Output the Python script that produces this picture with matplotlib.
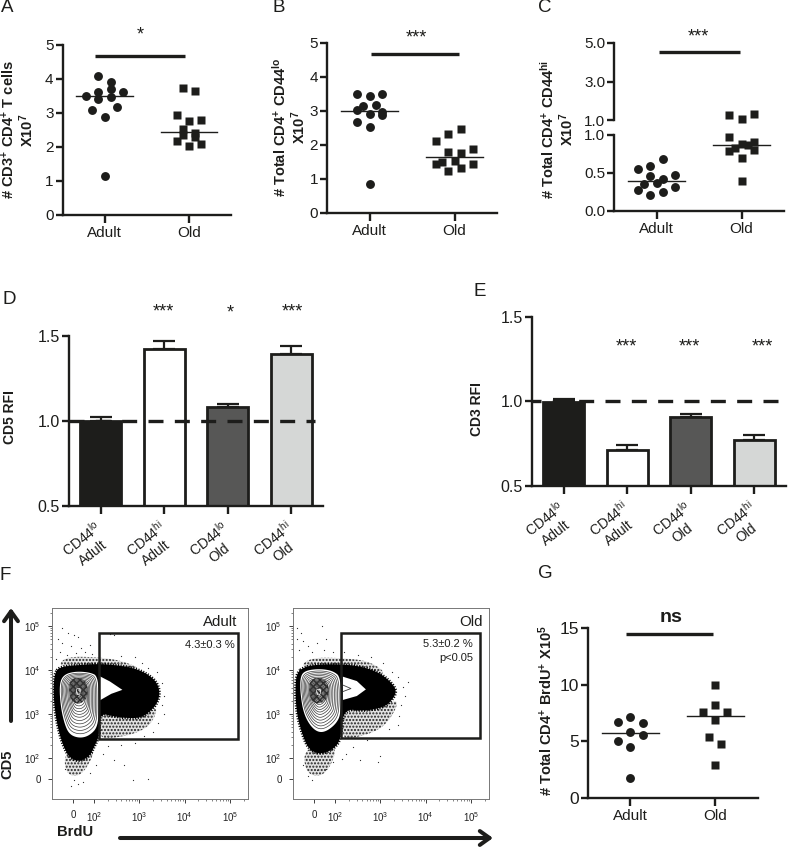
import numpy as np
import matplotlib
matplotlib.use('Agg')
import matplotlib.pyplot as plt
from matplotlib.patches import Polygon, Rectangle
from matplotlib.transforms import ScaledTranslation

plt.rcParams['font.family'] = ['Liberation Sans', 'DejaVu Sans']
plt.rcParams['mathtext.fontset'] = 'custom'
plt.rcParams['mathtext.rm'] = 'Liberation Sans'
plt.rcParams['mathtext.bf'] = 'Liberation Sans:bold'
plt.rcParams['mathtext.default'] = 'regular'

W, H = 788, 848
INK = '#1d1d1b'
SLOT = 0.073

groups = ['Adult', 'Old']

# panel A
a_adult = [4.10, 3.92, 3.72, 3.63, 3.61, 3.50, 3.40, 3.48, 3.19, 3.10, 2.88, 1.15]
a_adult_slot = [-1, 1, 1, -1, 3, -3, -1, 1, 2, -2, 0, 0]
a_old = [3.75, 3.66, 2.94, 2.77, 2.80, 2.52, 2.35, 2.40, 2.28, 2.18, 2.03, 2.08]
a_old_slot = [-1, 1, -2, 0, 2, -1, -1, 1, 1, -2, 0, 2]
a_means = [3.50, 2.45]

# panel B
b_adult = [3.50, 3.45, 3.50, 3.14, 3.17, 3.04, 2.91, 2.96, 2.87, 2.69, 2.54, 0.85]
b_adult_slot = [-2, 0, 2, -1, 1, -2, 0, 2, 2, -2, 0, 0]
b_old = [2.12, 2.31, 2.46, 1.89, 1.78, 1.76, 1.50, 1.53, 1.43, 1.44, 1.31, 1.25]
b_old_slot = [-3, -1, 1, 3, -1, 1, -2, 0, -3, 3, 1, -1]
b_means = [3.00, 1.66]

# panel C (broken axis)
c_adult = [0.69, 0.59, 0.555, 0.46, 0.47, 0.415, 0.36, 0.37, 0.32, 0.27, 0.245, 0.21]
c_adult_slot = [1, -1, -3, -1, 3, 1, -2, 0, 3, -3, 1, -1]
c_old = [1.26, 1.31, 1.03, 0.97, 0.91, 0.88, 0.865, 0.83, 0.79, 0.80, 0.70, 0.39]
c_old_slot = [-2, 2, 0, -2, 2, 0, 1, -1, -2, 2, 0, 0]
c_means = [0.40, 0.865]

# panel D, E
bar_labels = ['CD44$^{lo}$\nAdult', 'CD44$^{hi}$\nAdult', 'CD44$^{lo}$\nOld', 'CD44$^{hi}$\nOld']
bar_colors = [INK, '#ffffff', '#575756', '#d5d7d6']
d_values = [1.00, 1.425, 1.08, 1.395]
d_errors = [0.02, 0.045, 0.02, 0.045]
e_values = [1.00, 0.712, 0.909, 0.775]
e_errors = [0.015, 0.03, 0.015, 0.025]

# panel G
g_adult = [7.18, 6.68, 6.59, 5.85, 5.59, 5.06, 4.50, 1.76]
g_adult_slot = [0, -2, 2, 0, 2, -2, 0, 0]
g_old = [9.97, 8.18, 7.62, 7.59, 6.88, 5.38, 4.79, 2.88]
g_old_slot = [0, 0, -2, 2, 0, -1, 1, 0]
g_means = [5.74, 7.24]

# panel F, outlines, in decades of the flow axes
f_ticks = [1.53, 2, 3, 4, 5]
f_ticklabels = ['0', '$10^{2}$', '$10^{3}$', '$10^{4}$', '$10^{5}$']

adult_dense = [(1.13, 3.93), (1.24, 4.07), (1.61, 4.11), (2.05, 4.14), (2.42, 4.12), (2.86, 4.05),
               (3.15, 3.93), (3.38, 3.74), (3.46, 3.48), (3.38, 3.21), (3.19, 3.02), (3.01, 2.91),
               (2.71, 2.91), (2.42, 2.95), (2.13, 3.02), (2.11, 2.49), (2.01, 2.27), (1.90, 2.04),
               (1.68, 1.92), (1.46, 2.00), (1.32, 2.27), (1.21, 2.64), (1.13, 3.10), (1.10, 3.55)]
adult_hole = [(1.23, 3.67), (1.32, 3.89), (1.57, 3.97), (1.90, 3.95), (2.09, 3.86), (2.10, 3.25),
              (2.09, 2.72), (1.90, 2.51), (1.68, 2.45), (1.46, 2.53), (1.35, 2.76), (1.26, 3.17)]
adult_wedge = [(2.125, 3.86), (2.35, 3.74), (2.625, 3.55), (2.38, 3.46), (2.125, 3.31)]
adult_fringe = [[(2.11, 3.05), (3.2, 3.05), (3.42, 3.15), (3.25, 2.75), (2.9, 2.55), (2.4, 2.45), (2.11, 2.45)],
                [(1.35, 2.2), (1.36, 1.62), (1.75, 1.58), (2.1, 2.35)],
                [(1.2, 4.05), (1.35, 4.3), (2.0, 4.3), (2.6, 4.22), (3.1, 4.0), (2.2, 4.08)]]
adult_core = [(1.45, 3.82), (1.82, 3.82), (1.88, 3.38), (1.65, 3.2), (1.45, 3.35)]
adult_centre = (1.65, 3.54)
adult_gate = (2.10, 5.18, 2.44, 4.84)
adult_strays = [(1.30, 4.95), (1.42, 4.85), (1.55, 4.80), (1.65, 4.75), (1.20, 4.70), (1.28, 4.62),
                (1.50, 4.55), (1.72, 4.50), (1.90, 4.58), (1.25, 4.40), (1.40, 4.35), (1.60, 4.38),
                (1.80, 4.42), (1.95, 4.36), (1.15, 4.25), (2.35, 4.82), (2.45, 4.80), (2.60, 4.33),
                (2.90, 4.30), (3.05, 4.15), (3.20, 4.05), (3.40, 3.95), (3.50, 3.70), (3.55, 3.40),
                (3.50, 3.20), (3.55, 3.00), (3.42, 2.80), (3.30, 2.60), (3.10, 2.50), (2.90, 2.35),
                (2.60, 2.30), (2.30, 2.28), (2.20, 2.10), (2.45, 1.95), (2.65, 1.85), (2.85, 1.50),
                (3.20, 1.52), (1.50, 1.36), (1.55, 1.50), (1.65, 1.42), (1.75, 1.45), (1.35, 1.75),
                (1.90, 1.65), (2.05, 1.85)]

old_dense = [(1.15, 3.94), (1.34, 4.08), (1.67, 4.13), (2.11, 4.13), (2.55, 4.09), (2.99, 3.94),
             (3.29, 3.67), (3.36, 3.48), (3.21, 3.26), (3.03, 3.14), (2.63, 3.07), (2.18, 3.12),
             (2.13, 2.42), (1.96, 2.20), (1.67, 2.08), (1.41, 2.20), (1.26, 2.58), (1.15, 3.03),
             (1.12, 3.56)]
old_hole = [(1.23, 3.85), (1.34, 3.99), (1.67, 4.03), (1.96, 3.98), (2.13, 3.83), (2.13, 3.03),
            (2.04, 2.80), (1.82, 2.61), (1.63, 2.58), (1.45, 2.73), (1.30, 3.03), (1.23, 3.48)]
old_wedge = [(2.17, 3.85), (2.48, 3.75), (2.68, 3.56), (2.48, 3.41), (2.17, 3.32)]
old_loop = [(2.17, 3.66), (2.35, 3.58), (2.17, 3.51)]
old_fringe = [[(2.18, 3.12), (3.2, 3.28), (3.42, 3.3), (3.2, 2.85), (2.9, 2.6), (2.4, 2.45), (2.15, 2.45)],
              [(1.30, 2.25), (1.35, 1.62), (1.80, 1.58), (2.1, 2.35)],
              [(1.2, 4.05), (1.45, 4.28), (2.1, 4.28), (2.8, 4.2), (3.2, 3.85), (2.2, 4.08)]]
old_core = [(1.43, 3.82), (1.82, 3.82), (1.88, 3.38), (1.63, 3.2), (1.43, 3.35)]
old_centre = (1.63, 3.52)
old_gate = (2.13, 5.21, 2.45, 4.84)
old_strays = [(1.15, 4.95), (1.25, 4.85), (1.70, 5.00), (1.15, 4.70), (1.30, 4.65), (1.40, 4.55),
              (1.60, 4.62), (1.80, 4.70), (1.20, 4.45), (1.50, 4.40), (1.75, 4.45), (1.95, 4.40),
              (2.20, 4.42), (2.50, 4.35), (2.80, 4.30), (3.05, 4.15), (3.25, 3.95), (3.40, 3.85),
              (3.50, 3.62), (3.55, 3.40), (3.45, 3.20), (3.60, 3.72), (3.42, 2.95), (3.40, 2.75),
              (3.20, 2.65), (3.00, 2.45), (2.70, 2.40), (2.40, 2.25), (2.25, 2.10), (2.55, 1.95),
              (2.95, 1.90), (3.00, 2.05), (1.30, 1.85), (1.40, 1.60), (1.50, 1.50), (1.60, 1.72),
              (1.80, 1.75), (1.95, 1.90), (1.35, 1.98), (2.15, 1.98)]
ring_scales = [0.92, 0.85, 0.78, 0.71, 0.64, 0.57, 0.51, 0.45, 0.39, 0.33, 0.27, 0.21, 0.15, 0.09]


fig = plt.figure(figsize=(W / 100, H / 100), dpi=100)


def ax_px(left, top, right, bottom):
    return fig.add_axes([left / W, 1 - bottom / H, (right - left) / W, (bottom - top) / H])


def style_axes(ax, size=11):
    for side in ['top', 'right']:
        ax.spines[side].set_visible(False)
    for side in ['left', 'bottom']:
        ax.spines[side].set_linewidth(1.7)
        ax.spines[side].set_color(INK)
    ax.tick_params(width=1.7, length=5.4, color=INK, labelcolor=INK, labelsize=size, pad=1)
    ax.tick_params(axis='x', pad=2.5)
    ax.patch.set_alpha(0)


def swarm(ax, pos, values, slots, marker, size):
    x = pos + np.array(slots) * SLOT
    ax.plot(x, values, ls='', marker=marker, ms=size, color=INK, mec='none', clip_on=False, zorder=3)


def dot_panel(ax, adult, adult_slot, old, old_slot, means, bar, ticks):
    swarm(ax, 0, adult, adult_slot, 'o', 6.4)
    swarm(ax, 1, old, old_slot, 's', 5.6)
    for i, m in enumerate(means):
        ax.plot([i - 0.335, i + 0.335], [m, m], color=INK, lw=1.0, zorder=4)
    ax.plot(bar[:2], [bar[2], bar[2]], color=INK, lw=2.4, solid_capstyle='butt', clip_on=False)
    ax.set_xlim(-0.5, 1.5)
    ax.set_xticks([0, 1], groups)
    ax.set_yticks(ticks)
    style_axes(ax)


# top row
ax_a = ax_px(62.5, 45, 231, 215)
ax_a.set_ylim(0, 5)
dot_panel(ax_a, a_adult, a_adult_slot, a_old, a_old_slot, a_means, (-0.12, 0.95, 4.69), range(6))

ax_b = ax_px(327, 43, 497, 213)
ax_b.set_ylim(0, 5)
dot_panel(ax_b, b_adult, b_adult_slot, b_old, b_old_slot, b_means, (0.02, 1.05, 4.69), range(6))

# panel C, lower and upper part of the broken axis
ax_c = ax_px(614, 135, 784, 211)
ax_c.set_ylim(0, 1)
c_values = np.array(c_old)
c_slots = np.array(c_old_slot)
low = c_values <= 1
dot_panel(ax_c, c_adult, c_adult_slot, c_values[low], c_slots[low], c_means, (0, 0, 0), [0, 0.5, 1])
ax_c.set_yticklabels(['0.0', '0.5', '1.0'])

ax_c2 = ax_px(614, 43, 784, 120)
ax_c2.set_ylim(1, 5)
ax_c2.set_xlim(-0.5, 1.5)
style_axes(ax_c2)
ax_c2.spines['bottom'].set_visible(False)
ax_c2.set_xticks([])
ax_c2.set_yticks([1, 3, 5], ['1.0', '3.0', '5.0'])
swarm(ax_c2, 1, c_values[~low], c_slots[~low], 's', 5.6)
ax_c2.plot([0.03, 0.98], [4.53, 4.53], color=INK, lw=2.4, solid_capstyle='butt')


def bar_panel(ax, values, errors, dash_end, dash_phase):
    x = np.arange(len(values))
    ax.bar(x, np.array(values) - 0.5, 0.647, bottom=0.5, color=bar_colors, edgecolor=INK, linewidth=2.0, zorder=2)
    ax.errorbar(x, values, yerr=[np.zeros(len(errors)), errors], fmt='none', ecolor=INK, elinewidth=1.6,
                capsize=7.9, capthick=1.6, zorder=1)
    ax.plot([-0.5, dash_end], [1, 1], color=INK, lw=2.4, ls=(dash_phase, (4.5, 3.4)), dash_capstyle='butt', zorder=3)
    ax.set_xlim(-0.5, 3.5)
    ax.set_ylim(0.5, 1.5)
    ax.set_yticks([0.5, 1.0, 1.5], ['0.5', '1.0', '1.5'])
    style_axes(ax, 11.5)
    ax.set_xticks(x)
    ax.set_xticklabels(bar_labels, rotation=38, ha='right', va='top', rotation_mode='anchor',
                       multialignment='center', fontsize=10)
    ax.tick_params(axis='x', pad=4)
    shift = ScaledTranslation(-7 / 100, 1 / 100, fig.dpi_scale_trans)
    for label in ax.get_xticklabels():
        label.set_transform(label.get_transform() + shift)


ax_d = ax_px(69, 336, 323, 505.5)
bar_panel(ax_d, d_values, d_errors, 3.38, 0)
ax_e = ax_px(532, 317, 786, 486)
bar_panel(ax_e, e_values, e_errors, 3.4, 1.8)

ax_g = ax_px(588, 628, 757.5, 798)
ax_g.set_ylim(0, 15)
dot_panel(ax_g, g_adult, g_adult_slot, g_old, g_old_slot, g_means, (-0.055, 0.976, 14.5), [0, 5, 10, 15])
ax_g.tick_params(axis='y', labelsize=12.5)


def smooth(points, rounds=3):
    pts = np.array(points)
    for _ in range(rounds):
        nxt = np.roll(pts, -1, axis=0)
        pts = np.column_stack([0.75 * pts + 0.25 * nxt, 0.25 * pts + 0.75 * nxt]).reshape(-1, 2)
    return pts


def flow_panel(ax, dense, hole, wedge, fringe, core, centre, gate, strays):
    ax.set_xlim(1.07, 5.40)
    ax.set_ylim(1.07, 5.41)
    minor = [d + np.log10(k) for d in range(2, 6) for k in range(2, 10)]
    minor = [m for m in minor if m < 5.4]
    for axis in [ax.xaxis, ax.yaxis]:
        axis.set_ticks(f_ticks, f_ticklabels)
        axis.set_ticks(minor, minor=True)
    ax.tick_params(which='major', length=3, width=0.6, labelsize=7, pad=5, color='#222222', labelcolor='#222222')
    ax.tick_params(which='minor', length=1.5, width=0.4, color='#222222')
    for spine in ax.spines.values():
        spine.set_linewidth(0.7)
        spine.set_color('#777777')

    for part in fringe:
        ax.add_patch(Polygon(smooth(part), closed=True, facecolor='#e2e2e2', edgecolor='#222222',
                             hatch='.....', linewidth=0, zorder=1))
    # rough speckled rim round the dense part
    ax.add_patch(Polygon(smooth(dense), closed=True, facecolor='black', edgecolor='black', linewidth=2.2,
                         linestyle=(0, (0.35, 0.5)), zorder=2))
    ax.add_patch(Polygon(smooth(hole), closed=True, facecolor='white', edgecolor='none', zorder=3))
    ax.add_patch(Polygon(np.array(wedge), closed=True, facecolor='white', edgecolor='none', zorder=3))
    ax.add_patch(Polygon(smooth(core), closed=True, facecolor='#999999', edgecolor='#222222',
                         hatch='xxxxx', linewidth=0, zorder=4))
    outline = smooth(hole)
    for s in ring_scales:
        ring = np.array(centre) + (outline - np.array(centre)) * s
        col = 'white' if s < 0.12 else '#3c3c3c'
        ax.add_patch(Polygon(ring, closed=True, fill=False, edgecolor=col, linewidth=0.5, zorder=5))
    sx, sy = zip(*strays)
    ax.plot(sx, sy, ls='', marker='s', ms=0.8, color='#333333', mec='none', zorder=1)
    ax.add_patch(Rectangle((gate[0], gate[2]), gate[1] - gate[0], gate[3] - gate[2], fill=False,
                           edgecolor=INK, linewidth=1.8, zorder=6))


ax_f1 = ax_px(52, 608, 248, 799)
flow_panel(ax_f1, adult_dense, adult_hole, adult_wedge, adult_fringe, adult_core, adult_centre, adult_gate, adult_strays)
ax_f2 = ax_px(293, 608, 489, 799)
flow_panel(ax_f2, old_dense, old_hole, old_wedge, old_fringe, old_core, old_centre, old_gate, old_strays)
lx, ly = zip(*old_loop)
ax_f2.plot(lx, ly, color='#3c3c3c', lw=0.6, zorder=5)

# overlay in figure pixels for the labels and the two long arrows
over = fig.add_axes([0, 0, 1, 1], zorder=10)
over.set_xlim(0, W)
over.set_ylim(H, 0)
over.axis('off')

letters = [('A', 1, 8), ('B', 273, 8), ('C', 538, 8), ('D', 3, 299), ('E', 474, 292), ('F', -1, 575), ('G', 538, 574)]
for name, x, y in letters:
    over.text(x, y, name, fontsize=13.5, color=INK, ha='left', va='center')


def stars(x, y, text):
    over.text(x, y + 9, text, fontsize=13, color=INK, ha='center', va='baseline')


for x, y, text in [(140, 30, '*'), (416, 33, '***'), (698, 32, '***'), (163, 307, '***'), (230, 308, '*'),
                   (292, 307, '***'), (626, 342, '***'), (689, 342, '***'), (762, 342, '***')]:
    stars(x, y, text)
over.text(671, 617, 'ns', fontsize=14, fontweight='bold', color=INK, ha='center', va='center')

ylabels = [(18, 130, '# CD3$^{+}$ CD4$^{+}$ T cells\nX10$^{7}$', 10.5),
           (289.5, 127, '# Total CD4$^{+}$ CD44$^{lo}$\nX10$^{7}$', 10.5),
           (557.5, 129, '# Total CD4$^{+}$ CD44$^{hi}$\nX10$^{7}$', 10.5),
           (10, 417, 'CD5 RFI', 10),
           (477, 409, 'CD3 RFI', 10),
           (546, 711, '# Total CD4$^{+}$ BrdU$^{+}$ X10$^{5}$', 10.5),
           (7.5, 764, 'CD5', 10.5)]
for x, y, text, size in ylabels:
    over.text(x, y, text, rotation=90, fontsize=size, fontweight='bold', color=INK, ha='center', va='center',
              multialignment='center', linespacing=1.0)
over.text(75, 832, 'BrdU', fontsize=10.6, fontweight='bold', color=INK, ha='center', va='center')

over.text(237, 622, 'Adult', fontsize=10.8, color=INK, ha='right', va='center')
over.text(235, 645, '4.3±0.3 %', fontsize=8, color=INK, ha='right', va='center')
over.text(483, 622, 'Old', fontsize=10.8, color=INK, ha='right', va='center')
over.text(473, 644, '5.3±0.2 %', fontsize=8, color=INK, ha='right', va='center')
over.text(473, 658, 'p<0.05', fontsize=8, color=INK, ha='right', va='center')

arrow = dict(arrowstyle='->,head_length=0.7,head_width=0.5', color=INK, lw=2.9, shrinkA=0, shrinkB=0)
over.annotate('', xy=(11, 608), xytext=(11, 721), arrowprops=arrow)
over.annotate('', xy=(493, 838), xytext=(120, 838), arrowprops=arrow)

fig.savefig('out.png', dpi=100)
